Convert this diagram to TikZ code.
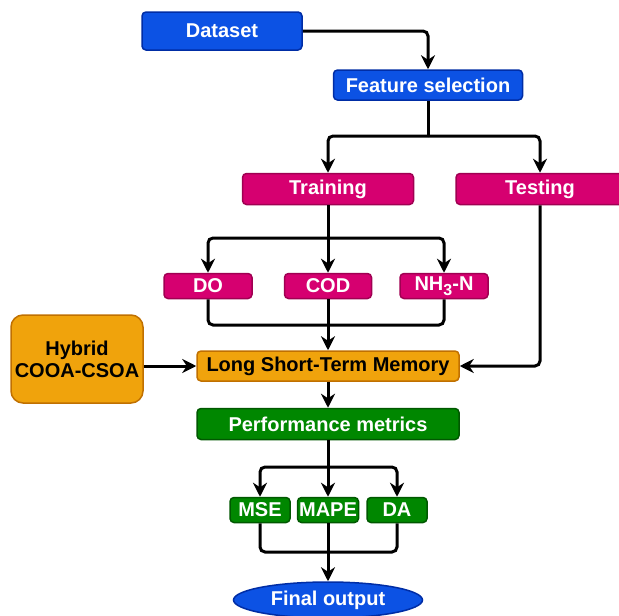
\documentclass[tikz,border=0pt]{standalone}
\usepackage{fontspec}
\setmainfont{Liberation Sans}
\usetikzlibrary{arrows.meta,shapes.geometric}

\definecolor{dsblue}{RGB}{12,82,228}
\definecolor{dsblueline}{RGB}{0,45,165}
\definecolor{trmag}{RGB}{214,0,112}
\definecolor{trmagline}{RGB}{160,0,82}
\definecolor{lsorange}{RGB}{240,163,12}
\definecolor{lsorangeline}{RGB}{192,112,0}
\definecolor{pmgreen}{RGB}{0,135,0}
\definecolor{pmgreenline}{RGB}{0,88,0}

\tikzset{
  box/.style={draw, line width=1.5pt, rounded corners=4pt, inner sep=0pt,
    font=\fontsize{20}{22}\selectfont\bfseries, text=white, align=center},
  bluebox/.style={box, fill=dsblue, draw=dsblueline},
  magbox/.style={box, fill=trmag, draw=trmagline},
  orangebox/.style={box, fill=lsorange, draw=lsorangeline, text=black},
  greenbox/.style={box, fill=pmgreen, draw=pmgreenline},
  flow/.style={line width=3pt, rounded corners=5pt},
  arr/.style={flow, -{Stealth[length=14pt,width=14pt,inset=4.5pt]}}
}

\begin{document}
\begin{tikzpicture}[x=1pt,y=-1pt]
\useasboundingbox (0,0) rectangle (619,616);

% boxes
\node[bluebox, minimum width=160pt, minimum height=38pt] (ds) at (222,31) {Dataset};
\node[bluebox, minimum width=189pt, minimum height=30pt] (fs) at (428,85) {Feature selection};
\node[magbox, minimum width=171pt, minimum height=31pt] (train) at (328,189) {Training};
\node[magbox, minimum width=168pt, minimum height=31pt] (test) at (540,189) {Testing};
\node[magbox, minimum width=88pt, minimum height=25pt] (do) at (208,286) {DO};
\node[magbox, minimum width=87pt, minimum height=25pt] (cod) at (328,286) {COD};
\node[magbox, minimum width=88pt, minimum height=25pt] (nh) at (444,286)
  {NH\raisebox{-5pt}{\fontsize{16}{16}\selectfont 3}-N};
\node[orangebox, minimum width=132pt, minimum height=88pt, rounded corners=12pt] (hyb) at (77,359)
  {Hybrid\\COOA-CSOA};
\node[orangebox, minimum width=262pt, minimum height=30pt] (lstm) at (328,366) {Long Short-Term Memory};
\node[greenbox, minimum width=262pt, minimum height=31pt] (perf) at (328,424) {Performance metrics};
\node[greenbox, minimum width=60pt, minimum height=25pt] (mse) at (260,510) {MSE};
\node[greenbox, minimum width=61pt, minimum height=25pt] (mape) at (328,510) {MAPE};
\node[greenbox, minimum width=60pt, minimum height=25pt] (da) at (397,510) {DA};
\node[bluebox, ellipse, minimum width=189pt, minimum height=36pt] (final) at (328,600) {Final output};

% split and join points
\coordinate (fsplit) at (428,136);
\coordinate (tsplit) at (328,238);
\coordinate (pjoin) at (328,325);
\coordinate (psplit) at (328,467);
\coordinate (mjoin) at (328,552);

% connectors
\draw[arr] (ds) -| (fs);
\draw[flow] (fs) -- (fsplit);
\draw[arr] (fsplit) -| (train);
\draw[arr] (fsplit) -| (test);
\draw[flow] (train) -- (tsplit);
\draw[arr] (tsplit) -| (do);
\draw[arr] (tsplit) -- (cod);
\draw[arr] (tsplit) -| (nh);
\draw[flow] (do) |- (pjoin) -| (nh);
\draw[arr] (cod) -- (lstm);
\draw[arr] (hyb.east |- lstm) -- (lstm);
\draw[arr] (test) |- (lstm);
\draw[arr] (lstm) -- (perf);
\draw[flow] (perf) -- (psplit);
\draw[arr] (psplit) -| (mse);
\draw[arr] (psplit) -- (mape);
\draw[arr] (psplit) -| (da);
\draw[flow] (mse) |- (mjoin) -| (da);
\draw[arr] (mape) -- (final);
\end{tikzpicture}
\end{document}
